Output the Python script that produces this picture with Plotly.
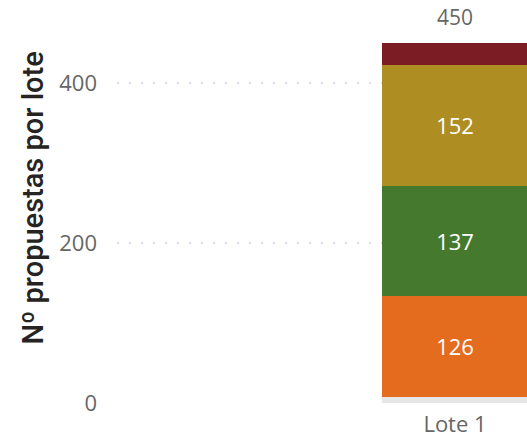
import plotly.graph_objects as go

categories = ["Lote 1"]
series_names = ["Otros", "Grupo A", "Grupo B", "Grupo C", "Grupo D"]
series_values = [[8], [126], [137], [152], [27]]
series_colors = ["#E6E6E6", "#E36C1E", "#457A2E", "#AE8E22", "#7B1C25"]
show_labels = [False, True, True, True, False]
total_values = [450]
y_ticks = [0, 200, 400]

FONT = "Segoe UI, Open Sans, sans-serif"

fig = go.Figure()
for name, vals, col, lab in zip(series_names, series_values, series_colors, show_labels):
    fig.add_trace(go.Bar(
        x=categories, y=vals, name=name,
        marker=dict(color=col, line=dict(width=0)),
        width=0.4273,
        text=[str(v) for v in vals] if lab else None,
        textposition="inside" if lab else "none",
        insidetextanchor="middle",
        textfont=dict(family=FONT, size=22, color="#FFFFFF"),
        hoverinfo="skip",
    ))

for c, t in zip(categories, total_values):
    fig.add_annotation(x=c, y=t, text=str(t), showarrow=False,
                       xref="x", yref="y", yanchor="bottom", yshift=11,
                       borderpad=0,
                       font=dict(family=FONT, size=21, color="#666666"))

fig.add_annotation(text="Nº propuestas por lote", textangle=-90,
                   xref="paper", yref="paper", x=0, y=0.5217,
                   xanchor="center", yanchor="middle", xshift=-84,
                   showarrow=False,
                   font=dict(family="Roboto", size=29, color="#252423", weight=500))

fig.update_layout(
    width=527, height=440,
    margin=dict(l=117, r=0, t=11, b=37),
    barmode="stack",
    showlegend=False,
    plot_bgcolor="white", paper_bgcolor="white",
    xaxis=dict(type="category", range=[-0.9893, 0.2107], showgrid=False,
               showline=False, ticks="", ticklabelstandoff=6,
               tickfont=dict(family=FONT, size=22, color="#666666")),
    yaxis=dict(range=[0, 490], tickvals=y_ticks, ticktext=[str(v) for v in y_ticks],
               showgrid=True, gridcolor="#DCDCEE", gridwidth=2, griddash="2px,10px",
               zeroline=False, showline=False, ticks="", ticklabelstandoff=19,
               tickfont=dict(family=FONT, size=22, color="#666666")),
)

fig.write_html("out.html", config={"displayModeBar": False},
               post_script="document.body.style.margin='0';")
